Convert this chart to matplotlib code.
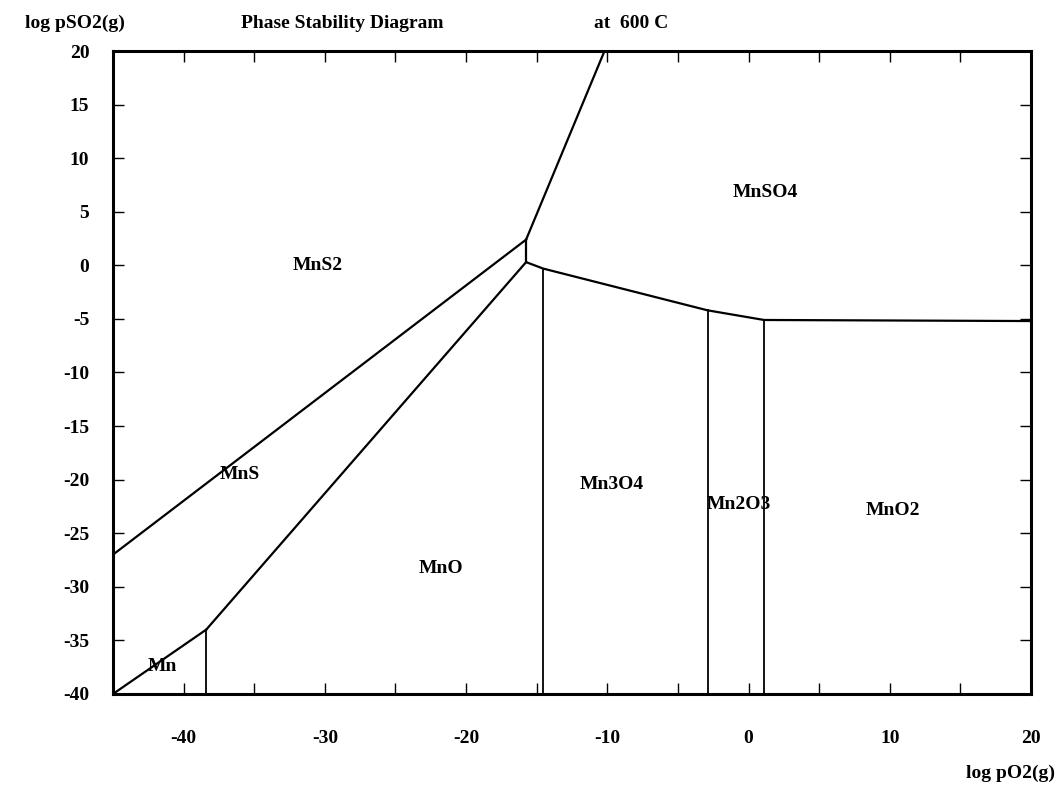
#!/usr/bin/env python3
# ====================================================================================================================
#                                          PRELIMINARIES
# ====================================================================================================================

import matplotlib
matplotlib.use("Agg")
import matplotlib.pyplot as plt     # library for visualization
from matplotlib.ticker import MultipleLocator

# PARAMETERS
TEMPERATURE = "600 C"
XLIM = (-45, 20)
YLIM = (-40, 20)

# phase boundaries, log pO2(g) vs log pSO2(g)
mns2_mns_x = [-45, -15.75]
mns2_mns_y = [-27, 2.4]
mns2_mnso4_x = [-15.75, -10.2]
mns2_mnso4_y = [2.4, 20]
mns2_mno_x = [-15.75, -15.75]
mns2_mno_y = [2.4, 0.3]
mn_mns_x = [-45, -38.4]
mn_mns_y = [-40, -34]
mns_mno_x = [-38.4, -15.75]
mns_mno_y = [-34, 0.3]
mnso4_x = [-15.75, -14.55, -2.9, 1.1, 20]
mnso4_y = [0.3, -0.3, -4.2, -5.1, -5.2]

# oxide / metal boundaries, vertical down to the bottom of the diagram
vert_x = [-38.4, -14.55, -2.9, 1.1]
vert_top = [-34, -0.3, -4.2, -5.1]

# stability field labels
phases = ["MnS2", "MnSO4", "MnS", "MnO", "Mn3O4", "Mn2O3", "MnO2", "Mn"]
phase_x = [-30.5, 1.2, -36.0, -21.8, -9.7, -0.7, 10.2, -41.5]
phase_y = [0.0, 6.8, -19.5, -28.3, -20.5, -22.3, -22.9, -37.4]


# ====================================================================================================================
#                                          MAIN FUNCTION
# ====================================================================================================================

def main():
    plt.rcParams["font.family"] = ["Liberation Serif", "DejaVu Serif"]
    plt.rcParams["font.weight"] = "bold"
    plt.rcParams["axes.unicode_minus"] = False

    fig = plt.figure(figsize=(10.64, 7.85), dpi=100)
    ax = fig.add_axes([0.1062, 0.116, 0.8628, 0.819])

    lw = 1.6
    ax.plot(mns2_mns_x, mns2_mns_y, color="black", lw=lw)
    ax.plot(mns2_mnso4_x, mns2_mnso4_y, color="black", lw=lw)
    ax.plot(mns2_mno_x, mns2_mno_y, color="black", lw=lw)
    ax.plot(mn_mns_x, mn_mns_y, color="black", lw=lw)
    ax.plot(mns_mno_x, mns_mno_y, color="black", lw=lw)
    ax.plot(mnso4_x, mnso4_y, color="black", lw=lw)
    for x, top in zip(vert_x, vert_top):
        ax.plot([x, x], [top, YLIM[0]], color="black", lw=1.3)

    for name, x, y in zip(phases, phase_x, phase_y):
        ax.text(x, y, name, fontsize=14, fontweight="bold", ha="center", va="center")

    ax.set_xlim(*XLIM)
    ax.set_ylim(*YLIM)

    # ticks every 5 units, labels every 10 on x
    ax.xaxis.set_major_locator(MultipleLocator(10))
    ax.xaxis.set_minor_locator(MultipleLocator(5))
    ax.yaxis.set_major_locator(MultipleLocator(5))
    ax.tick_params(axis="both", which="both", direction="in", top=True, right=True,
                   labelsize=14, width=1.0)
    ax.tick_params(axis="x", which="major", length=8, pad=26)
    ax.tick_params(axis="x", which="minor", length=8)
    ax.tick_params(axis="y", which="major", length=8, pad=17)
    for lab in ax.get_xticklabels() + ax.get_yticklabels():
        lab.set_fontweight("bold")

    for spine in ax.spines.values():
        spine.set_linewidth(2.2)

    fig.text(0.070, 0.970, "log pSO2(g)", fontsize=14, fontweight="bold", ha="center", va="center")
    fig.text(0.322, 0.970, "Phase Stability Diagram", fontsize=14, fontweight="bold", ha="center", va="center")
    fig.text(0.593, 0.970, "at  " + TEMPERATURE, fontsize=14, fontweight="bold", ha="center", va="center")
    fig.text(0.950, 0.015, "log pO2(g)", fontsize=14, fontweight="bold", ha="center", va="center")

    plt.savefig("out.png", dpi=100)
    plt.close()


if __name__ == '__main__':
    main()
